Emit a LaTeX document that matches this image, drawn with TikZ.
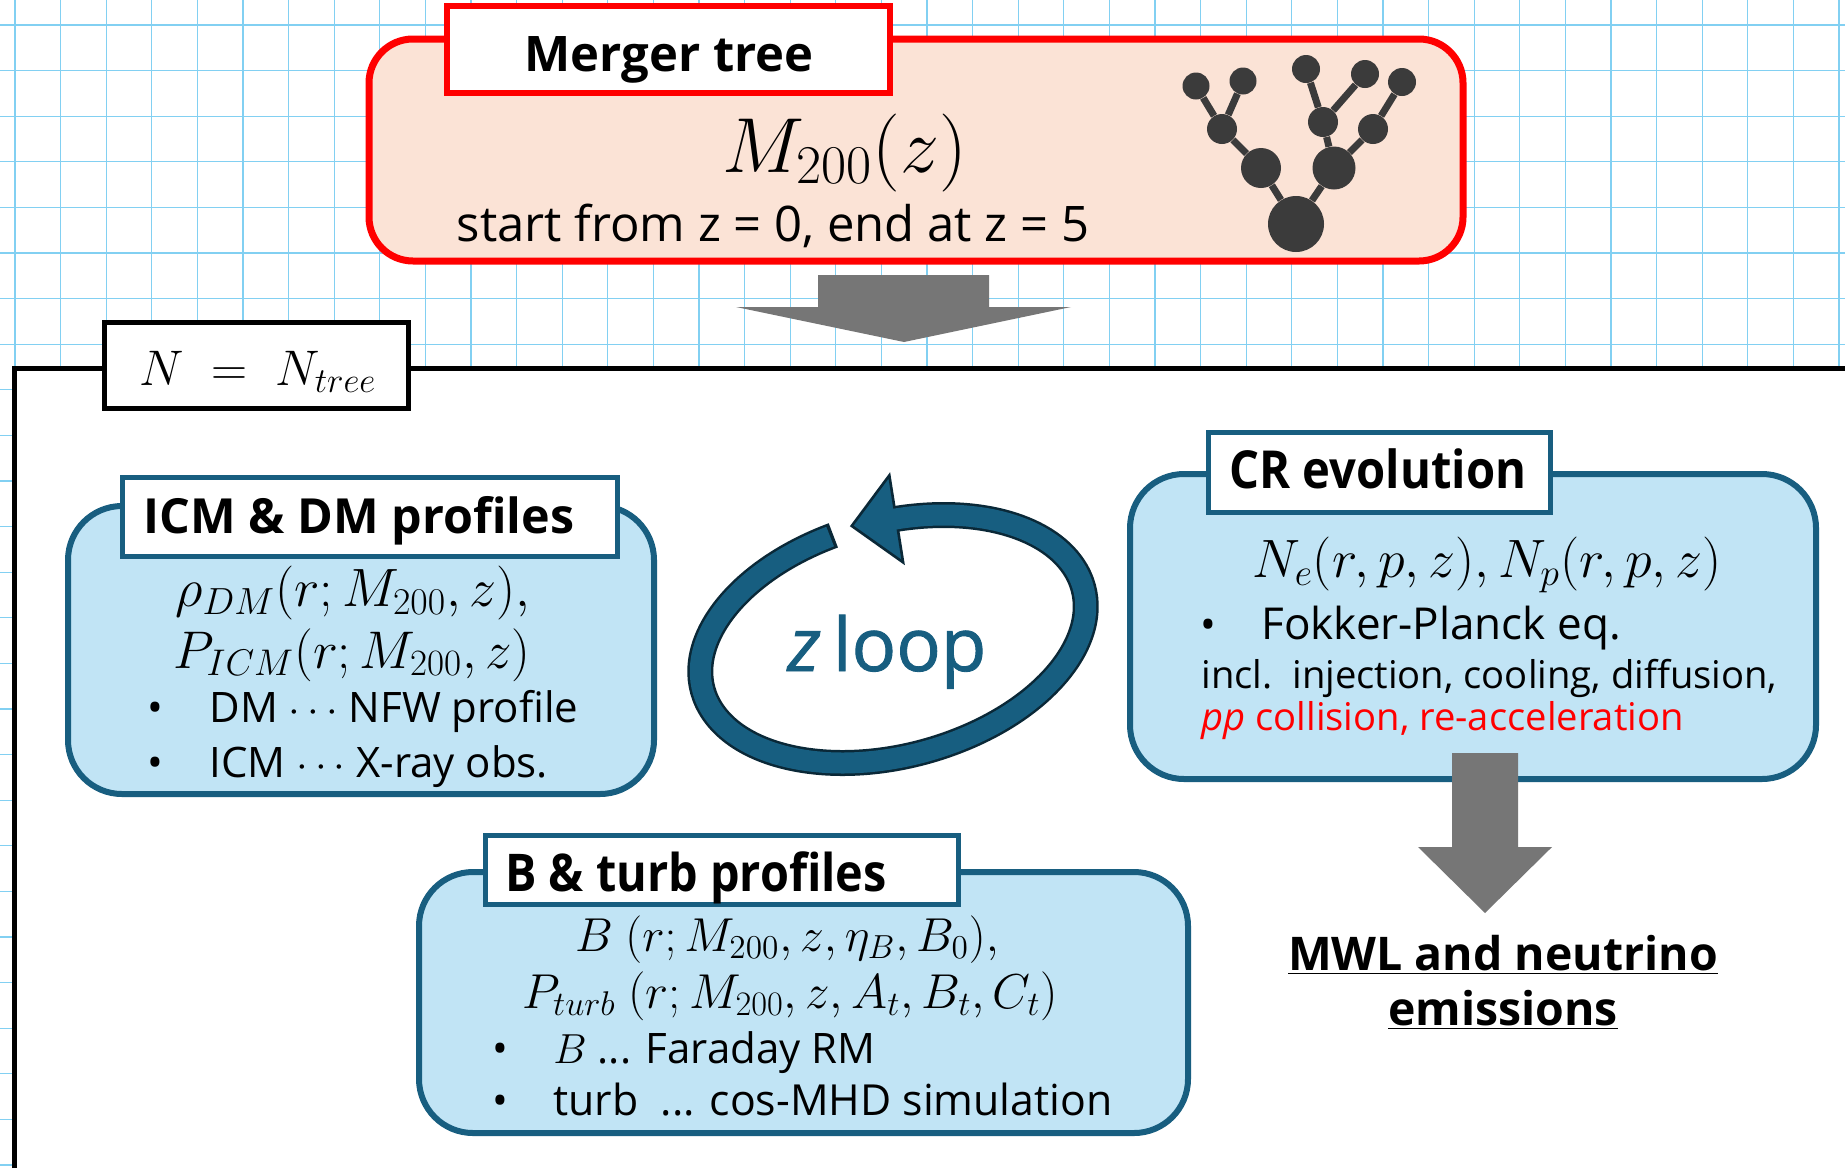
\RequirePackage{fix-cm}
\documentclass[tikz,border=0pt]{standalone}
\usepackage{fontspec}
\setmainfont{Open Sans}
\newfontfamily\narrowfont[FakeStretch=0.9]{Open Sans}
\newfontfamily\loopfont[FakeBold=1.2]{Open Sans}

\definecolor{gridblue}{RGB}{130,208,242}
\definecolor{peach}{RGB}{251,227,214}
\definecolor{boxteal}{RGB}{24,94,128}
\definecolor{boxfill}{RGB}{193,228,245}
\definecolor{loopteal}{RGB}{23,94,128}
\definecolor{loopdark}{RGB}{10,40,55}
\definecolor{arrowgray}{RGB}{118,118,118}
\definecolor{treegray}{RGB}{59,59,59}

\tikzset{
  gridline/.style={gridblue, line width=0.6pt},
  frameline/.style={black, line width=2.5pt},
  redbox/.style={draw=red, line width=3.5pt, fill=peach, rounded corners=22pt},
  redtitle/.style={draw=red, line width=3pt, fill=white},
  bluebox/.style={draw=boxteal, line width=3pt, fill=boxfill, rounded corners=27pt},
  bluetitle/.style={draw=boxteal, line width=2.5pt, fill=white},
  treedot/.style={circle, fill=treegray, inner sep=0pt},
  treeedge/.style={treegray, line width=3.5pt},
  blockarrow/.style={fill=arrowgray},
}

\begin{document}
\begin{tikzpicture}[x=0.5pt, y=-0.5pt, every node/.style={inner sep=0pt}]
\useasboundingbox (0,0) rectangle (1845,1168);

\foreach \i in {0,...,40} \draw[gridline] ({15+45.6*\i},0) -- ({15+45.6*\i},1168); % cuadricula vertical
\foreach \j in {0,...,25} \draw[gridline] (0,{25+45.6*\j}) -- (1845,{25+45.6*\j}); % cuadricula horizontal

\fill[white] (14,368) rectangle (1845,1168); % fondo marco
\draw[frameline] (14,1168) -- (14,368) -- (1845,368); % marco

% arbol de fusiones
\draw[redbox] (369,39) rectangle (1463,261); % caja
\draw[redtitle] (447,6) rectangle (890,93); % titulo
\node[anchor=base] (treetitle) at (669,71) {\fontsize{24.5}{28}\selectfont\bfseries Merger tree};
\node[anchor=base] (mass) at (845,172) {\fontsize{39}{44}\selectfont $M_{200}(z)$};
\node[anchor=base] (zrange) at (773,241) {\fontsize{24.5}{28}\selectfont start from z = 0, end at z = 5};

\node[treedot, minimum size=28pt] (root) at (1296,224) {}; % raiz
\node[treedot, minimum size=20pt] (lmid) at (1261,168) {};
\node[treedot, minimum size=21.5pt] (rmid) at (1334,168) {};
\node[treedot, minimum size=15pt] (lsmall) at (1222,129) {};
\node[treedot, minimum size=15pt] (csmall) at (1323,122) {};
\node[treedot, minimum size=15pt] (rsmall) at (1373,129) {};
\node[treedot, minimum size=13.5pt] (leafa) at (1196,86) {}; % hojas
\node[treedot, minimum size=13.5pt] (leafb) at (1243,81) {};
\node[treedot, minimum size=14pt] (leafc) at (1306,69) {};
\node[treedot, minimum size=14pt] (leafd) at (1365,74) {};
\node[treedot, minimum size=14pt] (leafe) at (1402,82) {};
\draw[treeedge] (root) -- (lmid);
\draw[treeedge] (root) -- (rmid);
\draw[treeedge] (lmid) -- (lsmall);
\draw[treeedge] (lsmall) -- (leafa);
\draw[treeedge] (lsmall) -- (leafb);
\draw[treeedge] (rmid) -- (csmall);
\draw[treeedge] (csmall) -- (leafc);
\draw[treeedge] (csmall) -- (leafd);
\draw[treeedge] (rmid) -- (rsmall);
\draw[treeedge] (rsmall) -- (leafe);

\fill[blockarrow] (818,275) -- (989,275) -- (989,307) -- (1071,307) -- (904,342) -- (736,307) -- (818,307) -- cycle; % flecha arriba

\draw[frameline, fill=white] (104,322) rectangle (408,408); % caja N
\node[anchor=base] (ntree) at (258,385) {\fontsize{25}{30}\selectfont $N \;=\; N_{tree}$};

% perfiles ICM y DM
\draw[bluebox] (68,506) rectangle (654,794);
\draw[bluetitle] (122,477) rectangle (617,556);
\node[anchor=base] (icmtitle) at (359,533) {\fontsize{24.2}{28}\selectfont\bfseries ICM \& DM profiles};
\node[anchor=base] (rhodm) at (353,606) {\fontsize{27}{32}\selectfont $\rho_{DM}(r; M_{200}, z),$};
\node[anchor=base] (picm) at (352,668) {\fontsize{26.5}{32}\selectfont $P_{ICM}(r; M_{200}, z)$};
\node[anchor=base] (dot1) at (155,722) {\fontsize{21}{26}\selectfont •};
\node[anchor=base west] (dmline) at (209,722) {\fontsize{21}{26}\selectfont DM $\cdots$ NFW profile};
\node[anchor=base] (dot2) at (155,777) {\fontsize{21}{26}\selectfont •};
\node[anchor=base west] (icmline) at (209,777) {\fontsize{21}{26}\selectfont ICM $\cdots$ X-ray obs.};

% bucle en z
\begin{scope}[shift={(893,639)}, rotate=15]
\draw[loopdark, line width=13pt] (-99:197 and 117) arc[start angle=-99, end angle=-440, x radius=197, y radius=117];
\filldraw[fill=loopteal, draw=loopdark, line width=1.3pt] (38.8,-159) -- (-10.6,-119.9) -- (29.6,-71.4) -- cycle; % punta
\draw[loopteal, line width=10.5pt] (-100:197 and 117) arc[start angle=-100, end angle=-443, x radius=197, y radius=117];
\end{scope}
\node[anchor=base, text=loopteal] (zloop) at (887,671) {\fontsize{37}{40}\selectfont\loopfont\textit{z}\,loop};

% evolucion CR
\draw[bluebox] (1130,474) rectangle (1816,779);
\draw[bluetitle] (1208,432) rectangle (1550,512);
\node[anchor=base] (crtitle) at (1378,488) {\fontsize{26.2}{30}\selectfont\narrowfont\bfseries CR evolution};
\node[anchor=base] (nenp) at (1487,577) {\fontsize{27}{32}\selectfont $N_e(r,p,z), N_p(r,p,z)$};
\node[anchor=base] (dot3) at (1208,639) {\fontsize{21}{26}\selectfont •};
\node[anchor=base west] (fpline) at (1261,639) {\fontsize{22}{26}\selectfont Fokker-Planck eq.};
\node[anchor=base west] (inclline) at (1201,688) {\fontsize{19.1}{24}\selectfont incl.\ \ injection, cooling, diffusion,};
\node[anchor=base west, text=red] (ppline) at (1201,730) {\fontsize{19.1}{24}\selectfont \textit{pp} collision, re-acceleration};

\fill[blockarrow] (1452,753) -- (1518,753) -- (1518,847) -- (1552,847) -- (1485,913) -- (1418,847) -- (1452,847) -- cycle; % flecha abajo
\node[anchor=base] (mwl) at (1503,970) {\fontsize{23.2}{28}\selectfont\bfseries\underline{MWL and neutrino}};
\node[anchor=base] (emis) at (1503,1025) {\fontsize{23.2}{28}\selectfont\bfseries\underline{emissions}};

% perfiles B y turbulencia
\draw[bluebox] (419,872) rectangle (1188,1133);
\draw[bluetitle] (485,835) rectangle (958,904);
\node[anchor=base] (btitle) at (696,891) {\fontsize{26}{28}\selectfont\narrowfont\bfseries B \& turb profiles};
\node[anchor=base] (bline) at (787,951) {\fontsize{23.8}{28}\selectfont $B\ (r; M_{200}, z, \eta_B, B_0),$};
\node[anchor=base] (pturb) at (790,1008) {\fontsize{24.5}{28}\selectfont $P_{turb}\ (r; M_{200}, z, A_t, B_t, C_t)$};
\node[anchor=base] (dot4) at (500,1063) {\fontsize{21}{26}\selectfont •};
\node[anchor=base west] (rmline) at (553,1063) {\fontsize{21}{26}\selectfont $B$ ... Faraday RM};
\node[anchor=base] (dot5) at (500,1115) {\fontsize{21}{26}\selectfont •};
\node[anchor=base west] (mhdline) at (553,1115) {\fontsize{21.4}{26}\selectfont turb\ \ ... cos-MHD simulation};

\end{tikzpicture}
\end{document}
